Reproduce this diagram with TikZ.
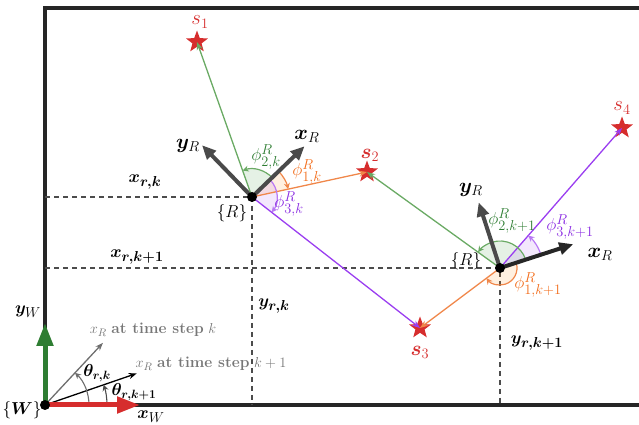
\documentclass[tikz,border=0pt]{standalone}
\usepackage{bm}
\usetikzlibrary{arrows.meta,shapes.geometric,calc}
\definecolor{sgreen}{HTML}{6AAA64}
\definecolor{lgreen}{HTML}{2E7D32}
\definecolor{sorange}{HTML}{F0874A}
\definecolor{lorange}{HTML}{F26C1A}
\definecolor{spurple}{HTML}{9A3EF0}
\definecolor{lpurple}{HTML}{8A2BE2}
\definecolor{sred}{HTML}{D62D2D}
\definecolor{axgray}{HTML}{4A4A4A}
\definecolor{txtgray}{HTML}{777777}
\begin{document}
\begin{tikzpicture}[x=1pt,y=1pt,
  frame/.style={line width=3.4pt,draw=black!85,line join=miter},
  dashln/.style={dash pattern=on 5pt off 4pt,line width=1.6pt,draw=black!70},
  raxis/.style={line width=4pt,draw=axgray,-{Triangle[length=14pt,width=12pt]}},
  waxis/.style={line width=5pt,-{Triangle[length=23pt,width=16pt]}},
  sens/.style={line width=1.3pt,-{Stealth[length=8pt,width=6pt]}},
  arcarrow/.style={line width=1.2pt,-{Stealth[length=6pt,width=6pt]}},
  starnode/.style={star,star points=5,star point ratio=2.4,fill=sred,inner sep=0pt,minimum size=23pt},
  robot/.style={circle,fill=black,inner sep=0pt,minimum size=10pt},
  lbl/.style={font=\fontsize{19}{22}\selectfont,inner sep=1pt},
  axlbl/.style={font=\fontsize{22}{26}\selectfont,inner sep=1pt},
  philbl/.style={font=\fontsize{19}{22}\selectfont,inner sep=1pt},
  slbl/.style={font=\fontsize{22}{26}\selectfont,text=sred,inner sep=1pt},
  glbl/.style={font=\fontsize{15.5}{18}\selectfont,text=txtgray,inner sep=1pt}
]
\useasboundingbox (0,0) rectangle (639,425);
% frame
\draw[frame] (639,417) -- (45,417) -- (45,20) -- (639,20);

% positions
\coordinate (W) at (45,20);
\coordinate (Rk) at (252,228);
\coordinate (Rkk) at (500,157);
\coordinate (Rkx) at (252,20);
\coordinate (Rky) at (45,228);
\coordinate (Rkkx) at (500,20);
\coordinate (Rkky) at (45,157);

% dashed projections
\draw[dashln] (Rky) -- (Rk) -- (Rkx);
\draw[dashln] (Rkky) -- (Rkk) -- (Rkkx);

% stars
\node[starnode] (s1) at (197,383) {};
\node[starnode] (s2) at (367,253) {};
\node[starnode] (s3) at (420,97) {};
\node[starnode] (s4) at (622,297) {};
\node[slbl] (ls1) at (200,403) {$s_1$};
\node[slbl] (ls2) at (370,270) {$\bm{s}_2$};
\node[slbl] (ls3) at (420,73) {$\bm{s}_3$};
\node[slbl] (ls4) at (622,317) {$s_4$};

% angle sectors at R_k
\fill[green!45!black,opacity=0.1] (Rk) -- ($(Rk)+(44:28)$) arc[start angle=44,end angle=109.5,radius=28] -- cycle;
\fill[orange,opacity=0.12] (Rk) -- ($(Rk)+(44:37)$) arc[start angle=44,end angle=12.3,radius=37] -- cycle;
\fill[spurple,opacity=0.12] (Rk) -- ($(Rk)+(44:25)$) arc[start angle=44,end angle=-37.9,radius=25] -- cycle;
% angle sectors at R_{k+1}
\fill[green!45!black,opacity=0.1] (Rkk) -- ($(Rkk)+(18:27)$) arc[start angle=18,end angle=144.2,radius=27] -- cycle;
\fill[spurple,opacity=0.12] (Rkk) -- ($(Rkk)+(18:43)$) arc[start angle=18,end angle=48.9,radius=43] -- cycle;
\fill[orange,opacity=0.12] (Rkk) -- ($(Rkk)+(18:17)$) arc[start angle=18,end angle=-143.1,radius=17] -- cycle;

% sensor rays
\draw[sens,draw=sgreen] (Rk) -- (s1.center);
\draw[sens,draw=sorange] (Rk) -- (s2.center);
\draw[sens,draw=spurple] (Rk) -- (s3.center);
\draw[sens,draw=sgreen] (Rkk) -- (s2.center);
\draw[sens,draw=sorange] (Rkk) -- (s3.center);
\draw[sens,draw=spurple] (Rkk) -- (s4.center);

% arcs at R_k
\draw[arcarrow,draw=sgreen] ($(Rk)+(44:28)$) arc[start angle=44,end angle=109.5,radius=28];
\draw[arcarrow,draw=sorange] ($(Rk)+(44:37)$) arc[start angle=44,end angle=12.3,radius=37];
\draw[arcarrow,draw=spurple!70] ($(Rk)+(44:25)$) arc[start angle=44,end angle=-37.9,radius=25];
% arcs at R_{k+1}
\draw[arcarrow,draw=sgreen] ($(Rkk)+(18:27)$) arc[start angle=18,end angle=144.2,radius=27];
\draw[arcarrow,draw=spurple!70] ($(Rkk)+(18:43)$) arc[start angle=18,end angle=48.9,radius=43];
\draw[arcarrow,draw=sorange] ($(Rkk)+(18:17)$) arc[start angle=18,end angle=-143.1,radius=17];

% robot axes
\coordinate (xRk) at ($(Rk)+(44:73)$);
\coordinate (yRk) at ($(Rk)+(134:72)$);
\coordinate (xRkk) at ($(Rkk)+(18:77)$);
\coordinate (yRkk) at ($(Rkk)+(108:69)$);
\draw[raxis] (Rk) -- (xRk);
\draw[raxis] (Rk) -- (yRk);
\draw[raxis,draw=black!85] (Rkk) -- (xRkk);
\draw[raxis] (Rkk) -- (yRkk);

\node[robot] (rk) at (Rk) {};
\node[robot] (rkk) at (Rkk) {};

% labels at robots
\node[axlbl] (lxRk) at (307,289) {$\bm{x}_R$};
\node[axlbl] (lyRk) at (188,279) {$\bm{y}_R$};
\node[axlbl] (lxRkk) at (600,171) {$\bm{x}_R$};
\node[axlbl] (lyRkk) at (471,235) {$\bm{y}_R$};
\node[lbl] (lRk) at (232,212) {$\{R\}$};
\node[lbl] (lRkk) at (466,164) {$\{R\}$};
\node[philbl,text=lgreen] (p2k) at (266,268) {$\phi^R_{2,k}$};
\node[philbl,text=lorange] (p1k) at (307,253) {$\phi^R_{1,k}$};
\node[philbl,text=lpurple] (p3k) at (289,221) {$\phi^R_{3,k}$};
\node[philbl,text=lgreen] (p2kk) at (512,204) {$\phi^R_{2,k+1}$};
\node[philbl,text=lpurple] (p3kk) at (570,198) {$\phi^R_{3,k+1}$};
\node[philbl,text=lorange] (p1kk) at (538,140) {$\phi^R_{1,k+1}$};

% projection labels
\node[lbl] (lxrk) at (145,243) {$\bm{x_{r,k}}$};
\node[lbl] (lxrkk) at (137,168) {$\bm{x_{r,k+1}}$};
\node[lbl] (lyrk) at (274,119) {$\bm{y_{r,k}}$};
\node[lbl] (lyrkk) at (537,82) {$\bm{y_{r,k+1}}$};

% world frame
\coordinate (xW) at (140,20);
\coordinate (yW) at (45,102);
\coordinate (hk) at ($(W)+(47:85)$);
\coordinate (hkk) at ($(W)+(19:97)$);
\draw[line width=1.3pt,draw=axgray!80,-{Stealth[length=8pt,width=6pt]}] (W) -- (hk);
\draw[line width=1.3pt,draw=black,-{Stealth[length=8pt,width=6pt]}] (W) -- (hkk);
\draw[line width=1.1pt,draw=axgray!80,-{Stealth[length=6pt,width=6pt]}] ($(W)+(0:44)$) arc[start angle=0,end angle=47,radius=44];
\draw[line width=1.1pt,draw=axgray,-{Stealth[length=6pt,width=6pt]}] ($(W)+(0:62)$) arc[start angle=0,end angle=19,radius=62];
\draw[waxis,draw=lgreen] (W) -- (yW);
\draw[waxis,draw=sred] (W) -- (xW);
\node[robot] (w) at (W) {};
\node[lbl] (lW) at (22,15) {$\{\bm{W}\}$};
\node[lbl] (lxW) at (151,8) {$\bm{x}_W$};
\node[lbl] (lyW) at (28,113) {$\bm{y}_W$};
\node[glbl] (lhk) at (153,95) {$x_R$ \textbf{at time step} $k$};
\node[glbl] (lhkk) at (211,61) {$x_R$ \textbf{at time step} $k+1$};
\node[philbl,font=\fontsize{17}{20}\selectfont] (lth) at (97,52) {$\bm{\theta_{r,k}}$};
\node[philbl,font=\fontsize{17}{20}\selectfont] (lthh) at (134,33) {$\bm{\theta_{r,k+1}}$};
\end{tikzpicture}
\end{document}
